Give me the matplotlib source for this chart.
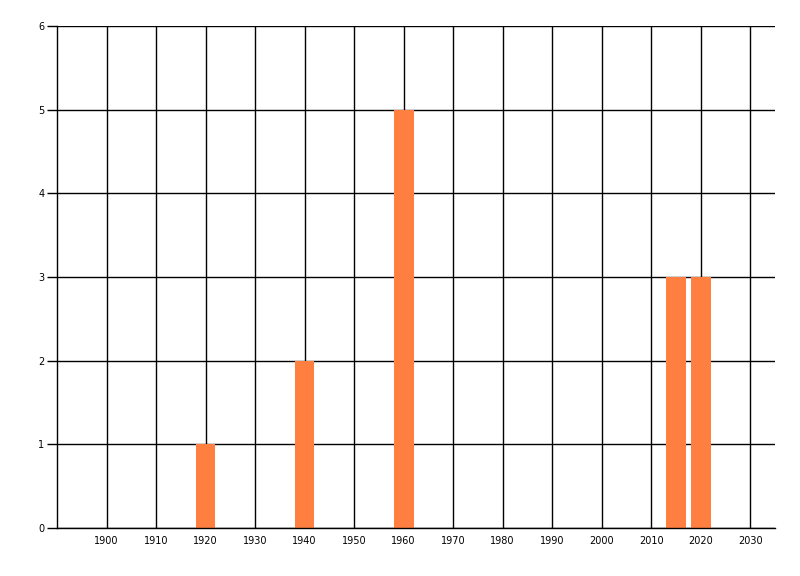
import matplotlib
matplotlib.use('Agg')
import matplotlib.pyplot as plt
import numpy as np

years = [1920, 1940, 1960, 2015, 2020]
counts = [1, 2, 5, 3, 3]
x_ticks = list(range(1900, 2031, 10))
y_ticks = list(range(0, 7))

fig = plt.figure(figsize=(8, 5.76), dpi=100)
ax = fig.add_axes([57/800, 48/576, (775-57)/800, (528-26)/576])

ax.bar(years, counts, width=4, color='#FF7F40', zorder=3)

ax.set_xlim(1890, 2035)
ax.set_ylim(0, 6)
ax.set_xticks(x_ticks)
ax.set_yticks(y_ticks)
ax.grid(True, color='black', linewidth=1, zorder=1)
ax.set_axisbelow(True)

for s in ['top', 'right']:
    ax.spines[s].set_visible(False)
for s in ['left', 'bottom']:
    ax.spines[s].set_linewidth(1)
    ax.spines[s].set_zorder(4)

ax.tick_params(axis='x', length=0, pad=6, labelsize=7)
ax.tick_params(axis='y', length=7, width=1, pad=2, labelsize=7)

fig.savefig('out.png', dpi=100)
